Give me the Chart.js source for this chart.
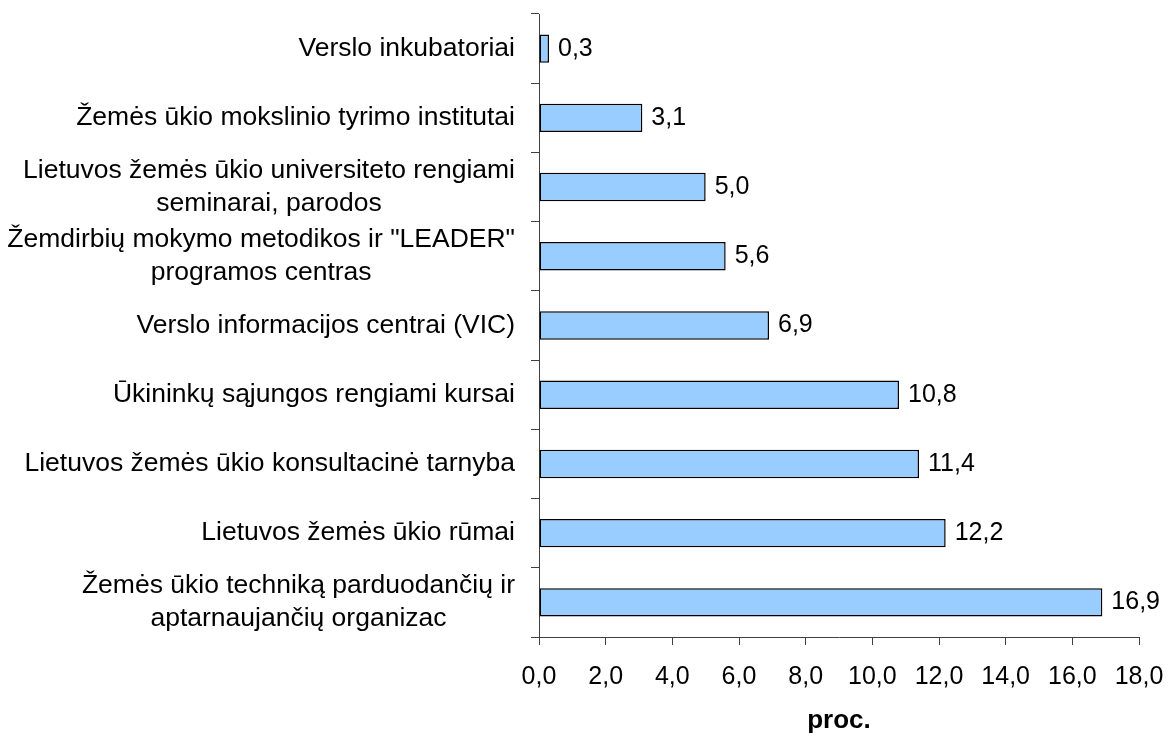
<!DOCTYPE html>
<html>
<head>
<meta charset="utf-8">
<script src="https://cdn.jsdelivr.net/npm/chart.js@4/dist/chart.umd.min.js"></script>
<style>
  html, body { margin: 0; padding: 0; background: #ffffff; }
  #wrap { width: 1168px; height: 736px; position: relative; }
</style>
</head>
<body>
<div id="wrap"><canvas id="c" width="1168" height="736"></canvas></div>
<script>
// Categories (top to bottom), each as lines of wrapped text
const categories = [
  ["Verslo inkubatoriai"],
  ["Žemės ūkio mokslinio tyrimo institutai"],
  ["Lietuvos žemės ūkio universiteto rengiami", "seminarai, parodos"],
  ["Žemdirbių mokymo metodikos ir \"LEADER\"", "programos centras"],
  ["Verslo informacijos centrai (VIC)"],
  ["Ūkininkų sąjungos rengiami kursai"],
  ["Lietuvos žemės ūkio konsultacinė tarnyba"],
  ["Lietuvos žemės ūkio rūmai"],
  ["Žemės ūkio techniką parduodančių ir", "aptarnaujančių organizac"]
];
const values = [0.3, 3.1, 5.0, 5.6, 6.9, 10.8, 11.4, 12.2, 16.9];
const valueLabels = ["0,3", "3,1", "5,0", "5,6", "6,9", "10,8", "11,4", "12,2", "16,9"];
const xTickLabels = ["0,0", "2,0", "4,0", "6,0", "8,0", "10,0", "12,0", "14,0", "16,0", "18,0"];
const xTitle = "proc.";

const FONT = "'Liberation Sans', Arial, sans-serif";
const AXIS_COLOR = "#404040";

const yLabelPlugin = {
  id: 'yLabels',
  afterDraw(chart) {
    const ctx = chart.ctx;
    const ys = chart.scales.y;
    const rightEdge = chart.chartArea.left - 24;
    const lineH = 33;
    ctx.save();
    ctx.font = "26.5px " + FONT;
    ctx.fillStyle = "#000000";
    ctx.textAlign = "center";
    ctx.textBaseline = "middle";
    categories.forEach((lines, i) => {
      const yc = ys.getPixelForTick(i);
      let maxW = 0;
      lines.forEach(l => { maxW = Math.max(maxW, ctx.measureText(l).width); });
      const cx = rightEdge - maxW / 2;
      lines.forEach((l, j) => {
        ctx.fillText(l, cx, yc + (j - (lines.length - 1) / 2) * lineH);
      });
    });
    ctx.restore();
  }
};

const valueLabelPlugin = {
  id: 'valueLabels',
  afterDatasetsDraw(chart) {
    const ctx = chart.ctx;
    const meta = chart.getDatasetMeta(0);
    ctx.save();
    ctx.font = "25px " + FONT;
    ctx.fillStyle = "#000000";
    ctx.textAlign = "left";
    ctx.textBaseline = "middle";
    meta.data.forEach((bar, i) => {
      ctx.fillText(valueLabels[i], bar.x + 9, bar.y);
    });
    ctx.restore();
  }
};

new Chart(document.getElementById('c'), {
  type: 'bar',
  data: {
    labels: categories,
    datasets: [{
      data: values,
      backgroundColor: '#99CCFF',
      borderColor: '#000000',
      borderWidth: 1.5,
      borderSkipped: false,
      categoryPercentage: 1.0,
      barPercentage: 0.41
    }]
  },
  options: {
    indexAxis: 'y',
    responsive: false,
    animation: false,
    devicePixelRatio: 1,
    layout: { padding: { top: 14, right: 29, bottom: 0, left: 0 } },
    plugins: {
      legend: { display: false },
      tooltip: { enabled: false },
      title: { display: false }
    },
    scales: {
      x: {
        type: 'linear',
        min: 0,
        max: 18,
        afterFit(scale) {
          scale.height = 736 - 14 - 623;
          scale.paddingLeft = 0;
          scale.paddingRight = 0;
        },
        border: { display: true, color: AXIS_COLOR, width: 1 },
        grid: { drawOnChartArea: false, drawTicks: true, tickLength: 8, color: AXIS_COLOR },
        ticks: {
          stepSize: 2,
          padding: 17,
          color: '#000000',
          font: { family: FONT, size: 25 },
          maxRotation: 0,
          callback: (v) => xTickLabels[Math.round(v / 2)]
        },
        title: {
          display: true,
          text: xTitle,
          color: '#000000',
          font: { family: FONT, size: 26, weight: 'bold' },
          padding: { top: 0, bottom: 0 }
        }
      },
      y: {
        type: 'category',
        afterFit(scale) { scale.width = 539; },
        border: { display: true, color: AXIS_COLOR, width: 1 },
        grid: { drawOnChartArea: false, drawTicks: true, tickLength: 8, color: AXIS_COLOR, offset: true },
        ticks: { display: false }
      }
    }
  },
  plugins: [yLabelPlugin, valueLabelPlugin]
});
</script>
</body>
</html>
